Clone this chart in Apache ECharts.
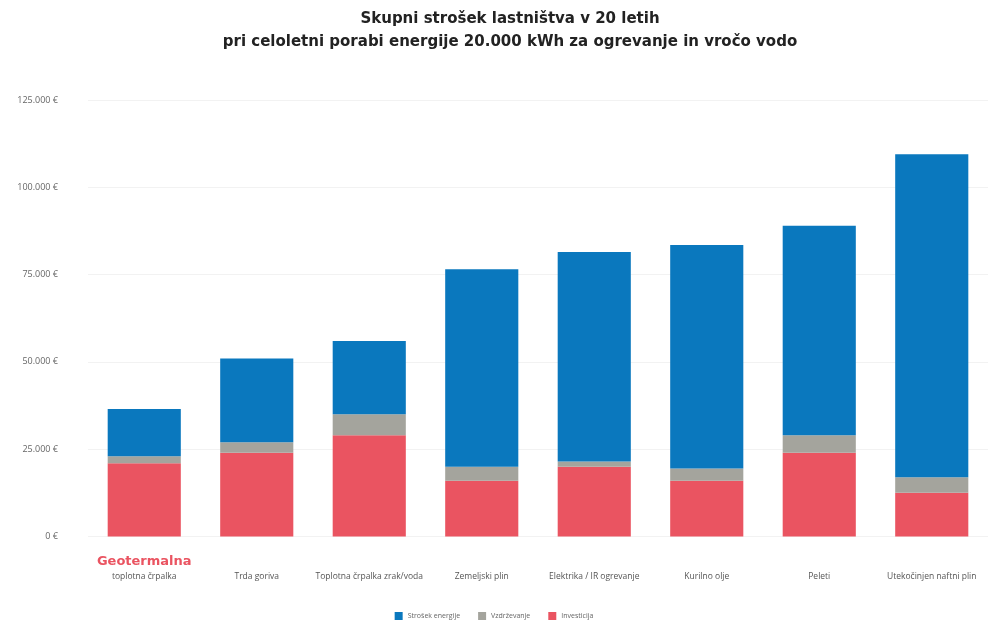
<!DOCTYPE html>
<html>
<head>
<meta charset="utf-8">
<script src="https://cdn.jsdelivr.net/npm/echarts@6/dist/echarts.min.js"></script>
<style>
  html, body { margin: 0; padding: 0; background: #fff; }
  #chart { width: 988px; height: 625px; }
</style>
</head>
<body>
<div id="chart"></div>
<script>
// Heating systems compared over 20 years of ownership
const categories = [
  'Geotermalna|toplotna črpalka',
  'Trda goriva',
  'Toplotna črpalka zrak/voda',
  'Zemeljski plin',
  'Elektrika / IR ogrevanje',
  'Kurilno olje',
  'Peleti',
  'Utekočinjen naftni plin'
];

// Costs in EUR
const investment = [21000, 24000, 29000, 16000, 20000, 16000, 24000, 12500];
const maintenance = [2000, 3000, 6000, 4000, 1500, 3500, 5000, 4500];
const energyCost = [13500, 24000, 21000, 56500, 60000, 64000, 60000, 92500];

const yTicks = { min: 0, max: 125000, interval: 25000 };

const seriesNames = ['Strošek energije', 'Vzdrževanje', 'Investicija'];
const colors = { energy: '#0a78be', maintenance: '#a4a49d', investment: '#ea5461' };

function euro(v) {
  if (v === 0) return '0 €';
  return String(v).replace(/\B(?=(\d{3})+(?!\d))/g, '.') + ' €';
}

const chart = echarts.init(document.getElementById('chart'));

chart.setOption({
  backgroundColor: '#ffffff',
  animation: false,
  textStyle: { fontFamily: '"Open Sans", sans-serif' },
  title: {
    text: 'Skupni strošek lastništva v 20 letih\npri celoletni porabi energije 20.000 kWh za ogrevanje in vročo vodo',
    left: 505,
    top: 3,
    textAlign: 'center',
    textStyle: {
      fontFamily: '"DejaVu Sans", sans-serif',
      fontSize: 15,
      fontWeight: 'bold',
      color: '#222',
      lineHeight: 23
    }
  },
  legend: {
    data: seriesNames,
    bottom: 0,
    left: 'center',
    itemWidth: 8,
    itemHeight: 8,
    itemGap: 18,
    icon: 'rect',
    textStyle: { fontSize: 7, color: '#666' }
  },
  grid: { left: 88, right: 0, top: 100, bottom: 88.5, containLabel: false },
  xAxis: {
    type: 'category',
    data: categories,
    axisLine: { show: false },
    axisTick: { show: false },
    axisLabel: {
      interval: 0,
      margin: 17,
      formatter: function (v) {
        const parts = v.split('|');
        if (parts.length > 1) return '{g|' + parts[0] + '}\n{n|' + parts[1] + '}';
        return '{e| }\n{n|' + v + '}';
      },
      rich: {
        g: { fontFamily: '"DejaVu Sans", sans-serif', fontSize: 13, fontWeight: 'bold', color: '#ea5461', lineHeight: 16 },
        e: { fontSize: 9, lineHeight: 16 },
        n: { fontSize: 8.5, color: '#555', lineHeight: 14 }
      }
    }
  },
  yAxis: {
    type: 'value',
    min: yTicks.min,
    max: yTicks.max,
    interval: yTicks.interval,
    axisLine: { show: false },
    axisTick: { show: false },
    splitLine: { lineStyle: { color: '#f2f2f2', width: 1 } },
    axisLabel: { formatter: euro, fontSize: 9, color: '#666', margin: 30 }
  },
  series: [
    {
      name: seriesNames[2],
      type: 'bar',
      stack: 'total',
      data: investment,
      barWidth: '65%',
      itemStyle: { color: colors.investment }
    },
    {
      name: seriesNames[1],
      type: 'bar',
      stack: 'total',
      data: maintenance,
      itemStyle: { color: colors.maintenance }
    },
    {
      name: seriesNames[0],
      type: 'bar',
      stack: 'total',
      data: energyCost,
      itemStyle: { color: colors.energy }
    }
  ]
});
</script>
</body>
</html>
